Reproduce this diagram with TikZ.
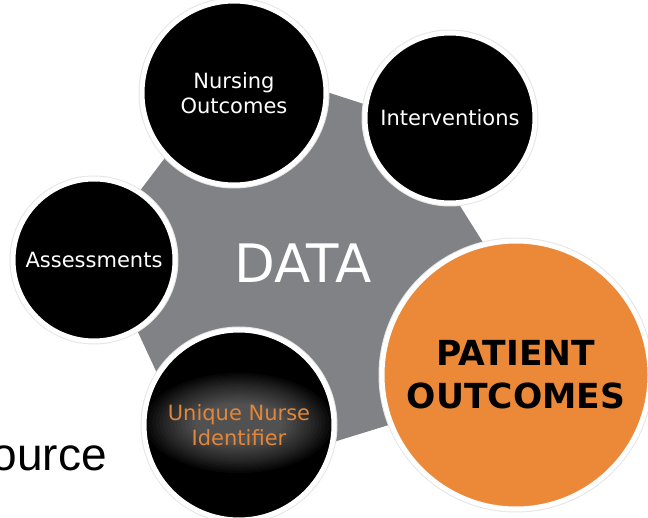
\documentclass[tikz,border=0pt]{standalone}
\usepackage{fontspec}
\setmainfont{DejaVu Sans}
\newfontfamily\arialfont{Liberation Sans}
\definecolor{datagrey}{RGB}{128,130,133}
\definecolor{outcomeorange}{RGB}{235,137,57}
\definecolor{nurseorange}{RGB}{226,134,58}

\begin{document}
\begin{tikzpicture}[x=1pt, y=-1pt,
  disk/.style={circle, inner sep=0pt, fill=black, draw=white, line width=5pt,
    preaction={draw=black!10, line width=7pt}, text=white, align=center,
    font=\fontsize{21}{25}\selectfont}]
  \useasboundingbox (0,0) rectangle (648,518);
  \fill [datagrey] (98,246) -- (237,63) -- (404,117) -- (564,371) -- (207,481) -- cycle;
  \node [text=white, font=\fontsize{53}{60}\selectfont] (data) at (303,263) {DATA};
  \node [disk, minimum size=162pt] (assess) at (94,260) {Assessments};
  \node [disk, minimum size=184pt] (nursing) at (234,93) {Nursing\\Outcomes};
  \node [disk, minimum size=170pt] (interv) at (450,118) {Interventions};
  \node [disk, minimum size=190pt, text=nurseorange,
    path picture={\foreach \k in {0,...,14}
      \fill [white, opacity=0.026] ([yshift=2pt]path picture bounding box.center)
        ellipse [x radius=94pt-3.6pt*\k, y radius=50pt-2.2pt*\k];}]
    (nurse) at (239,425) {Unique Nurse\\Identifier};
  \node [disk, minimum size=268pt, fill=outcomeorange, text=black,
    font=\fontsize{34.5}{43}\selectfont\bfseries] (patient) at (516,375) {PATIENT\\OUTCOMES};
  \node [anchor=base east, inner sep=0pt, font=\arialfont\fontsize{46}{55}\selectfont] (source) at (107,470) {ource};
\end{tikzpicture}
\end{document}
